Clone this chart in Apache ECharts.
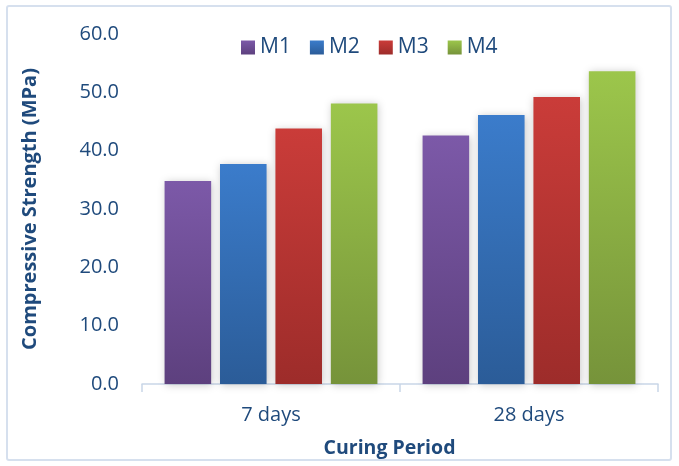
<!DOCTYPE html>
<html>
<head>
<meta charset="utf-8">
<script src="https://cdn.jsdelivr.net/npm/echarts@6/dist/echarts.min.js"></script>
<style>
  html, body { margin: 0; padding: 0; background: #ffffff; }
  #frame { position: absolute; left: 6px; top: 5px; width: 666px; height: 456px;
           border: 2px solid #d6e0ee; border-radius: 3px; box-sizing: border-box; }
  #chart { position: absolute; left: 0; top: 0; width: 679px; height: 466px; }
</style>
</head>
<body>
<div id="frame"></div>
<div id="chart"></div>
<script>
// Curing periods on the x axis
const categories = ['7 days', '28 days'];
// Compressive strength (MPa) of each mix
const seriesNames = ['M1', 'M2', 'M3', 'M4'];
const m1 = [34.8, 42.6];
const m2 = [37.7, 46.1];
const m3 = [43.8, 49.2];
const m4 = [48.1, 53.6];
const seriesValues = [m1, m2, m3, m4];
// Top / bottom shades of each bar gradient
const topColors = ['#7c59a8', '#3b7ccb', '#ca3c39', '#9cc64b'];
const bottomColors = ['#5d407e', '#2b5c98', '#9d2c2a', '#76933a'];

const textColor = '#1f4a7c';
const fontFamily = '"Open Sans", "Liberation Sans", sans-serif';

const chart = echarts.init(document.getElementById('chart'), null, { renderer: 'canvas' });

const gradient = i => new echarts.graphic.LinearGradient(0, 0, 0, 1, [
  { offset: 0, color: topColors[i] },
  { offset: 1, color: bottomColors[i] }
]);

const series = seriesNames.map((name, i) => ({
  name: name,
  type: 'bar',
  data: seriesValues[i],
  barGap: '19%',
  barCategoryGap: '17.5%',
  itemStyle: {
    color: gradient(i),
    shadowColor: 'rgba(0,0,0,0.22)',
    shadowBlur: 8,
    shadowOffsetX: 1,
    shadowOffsetY: 1
  }
}));

chart.setOption({
  animation: false,
  textStyle: { fontFamily: fontFamily },
  legend: {
    top: 37,
    left: 241,
    padding: 0,
    itemWidth: 14,
    itemHeight: 14,
    itemGap: 19,
    icon: 'rect',
    textStyle: { color: textColor, fontSize: 21, fontFamily: fontFamily },
    data: seriesNames.map((n, i) => ({ name: n, itemStyle: { color: gradient(i) } }))
  },
  grid: { left: 142, right: 21, top: 34, bottom: 82, containLabel: false },
  xAxis: {
    type: 'category',
    data: categories,
    name: 'Curing Period',
    nameLocation: 'middle',
    nameGap: 54,
    nameTextStyle: {
      color: textColor, fontSize: 19.5, fontWeight: 'bold', fontFamily: fontFamily,
      padding: [0, 21, 0, 0]
    },
    axisLine: { lineStyle: { color: '#c9d6e8', width: 1.5 } },
    axisTick: { show: true, length: 8, lineStyle: { color: '#c9d6e8', width: 1.5 } },
    axisLabel: { color: textColor, fontSize: 20, margin: 21, fontFamily: fontFamily }
  },
  yAxis: {
    type: 'value',
    min: 0,
    max: 60,
    interval: 10,
    name: 'Compressive Strength (MPa)',
    nameLocation: 'middle',
    nameGap: 102,
    nameRotate: 90,
    nameTextStyle: { color: textColor, fontSize: 20, fontWeight: 'bold', fontFamily: fontFamily },
    axisLine: { show: false },
    axisTick: { show: false },
    splitLine: { show: false },
    axisLabel: {
      color: textColor, fontSize: 20, margin: 23, fontFamily: fontFamily,
      formatter: v => v.toFixed(1)
    }
  },
  series: series
});
</script>
</body>
</html>
